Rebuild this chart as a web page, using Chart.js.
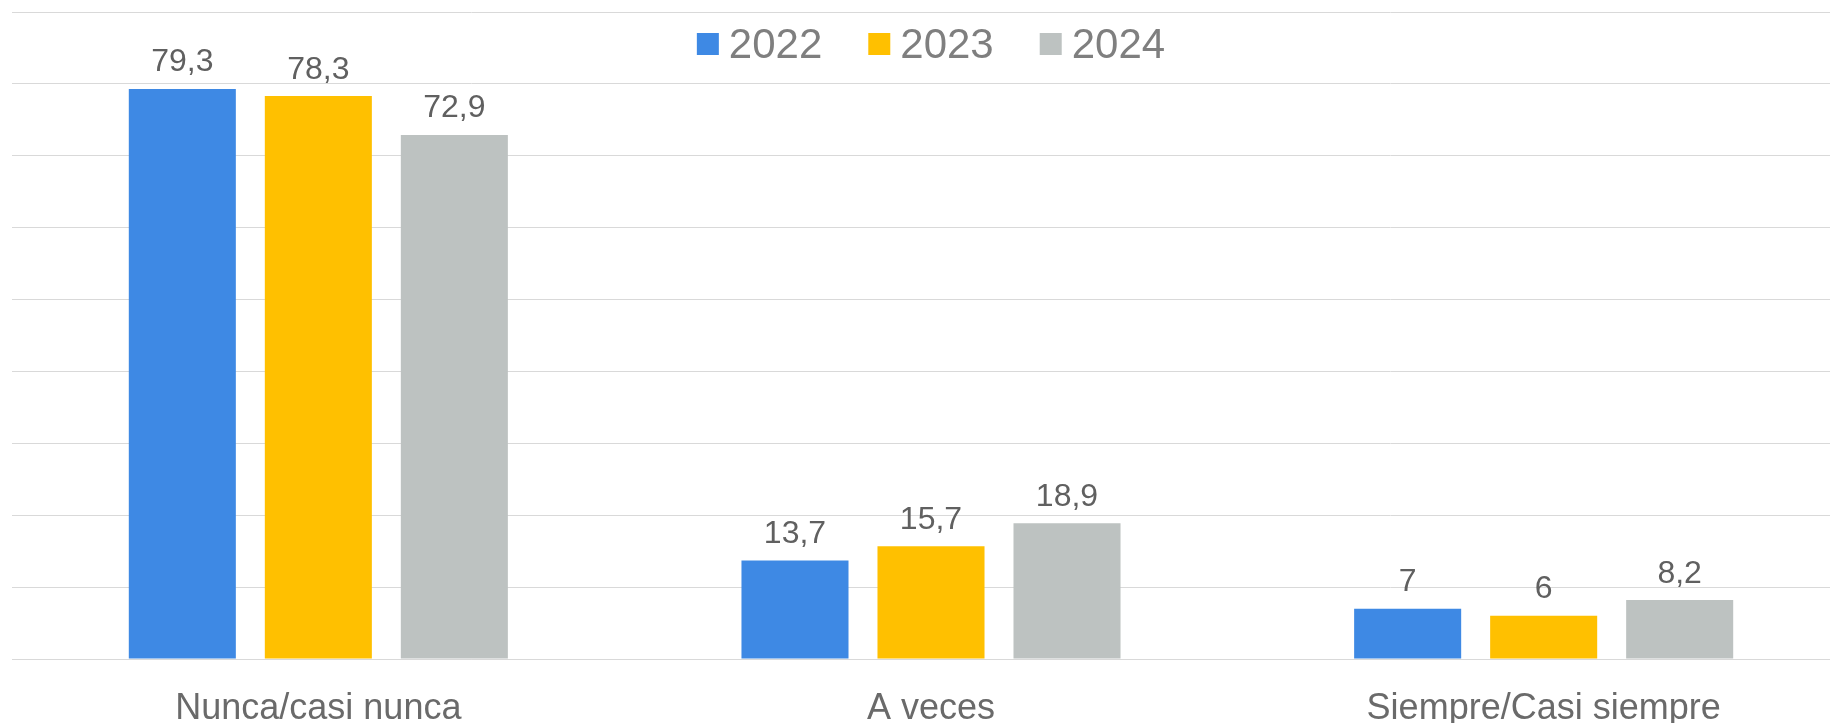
<!DOCTYPE html>
<html>
<head>
<meta charset="utf-8">
<script src="https://cdn.jsdelivr.net/npm/chart.js"></script>
<style>
  html, body { margin: 0; padding: 0; background: #fff; overflow: hidden; }
  #wrap { width: 1852px; height: 723px; }
</style>
</head>
<body>
<div id="wrap"><canvas id="myChart"></canvas></div>
<script>
const categories = ['Nunca/casi nunca', 'A veces', 'Siempre/Casi siempre'];
const years = ['2022', '2023', '2024'];
const values2022 = [79.3, 13.7, 7];
const values2023 = [78.3, 15.7, 6];
const values2024 = [72.9, 18.9, 8.2];
const colors = ['#3e89e4', '#ffc000', '#bdc2c1'];

const FONT = '"Liberation Sans", Arial, sans-serif';

// numbers over the bars, with a decimal comma
const valueLabels = {
  id: 'valueLabels',
  afterDatasetsDraw(chart) {
    const ctx = chart.ctx;
    ctx.save();
    ctx.font = '32px ' + FONT;
    ctx.fillStyle = '#606060';
    ctx.textAlign = 'center';
    ctx.textBaseline = 'alphabetic';
    chart.data.datasets.forEach((ds, i) => {
      chart.getDatasetMeta(i).data.forEach((bar, j) => {
        ctx.fillText(String(ds.data[j]).replace('.', ','), bar.x, bar.y - 17.5);
      });
    });
    ctx.restore();
  }
};

// legend drawn inside the plot, over the top grid band
const topLegend = {
  id: 'topLegend',
  afterDraw(chart) {
    const ctx = chart.ctx;
    const box = 22, gap = 10, itemGap = 46, size = 42;
    ctx.save();
    ctx.font = size + 'px ' + FONT;
    const items = chart.data.datasets.map(ds => ({
      text: ds.label, color: ds.backgroundColor, w: ctx.measureText(ds.label).width
    }));
    let total = 0;
    items.forEach((it, k) => { total += box + gap + it.w + (k ? itemGap : 0); });
    const area = chart.chartArea;
    let x = (area.left + area.right) / 2 - total / 2;
    ctx.textBaseline = 'alphabetic';
    ctx.textAlign = 'left';
    items.forEach(it => {
      ctx.fillStyle = it.color;
      ctx.fillRect(x, 33, box, box);
      ctx.fillStyle = '#7f7f7f';
      ctx.fillText(it.text, x + box + gap, 58);
      x += box + gap + it.w + itemGap;
    });
    ctx.restore();
  }
};

const ctx = document.getElementById('myChart');

const chart = new Chart(ctx, {
  type: 'bar',
  data: {
    labels: categories,
    datasets: [
      { label: years[0], data: values2022, backgroundColor: colors[0] },
      { label: years[1], data: values2023, backgroundColor: colors[1] },
      { label: years[2], data: values2024, backgroundColor: colors[2] }
    ]
  },
  options: {
    responsive: true,
    maintainAspectRatio: false,
    animation: false,
    layout: { padding: { top: 12, left: 12, right: 2, bottom: 0 } },
    datasets: {
      bar: { categoryPercentage: 0.666, barPercentage: 0.787 }
    },
    plugins: {
      legend: { display: false },
      tooltip: { enabled: false }
    },
    scales: {
      x: {
        grid: { display: false },
        border: { display: true, color: '#d9d9d9', width: 1 },
        ticks: {
          color: '#6a6a6a',
          font: { family: FONT, size: 36, lineHeight: 1 },
          padding: 24,
          maxRotation: 0
        },
        afterFit: (scale) => { scale.height = 64; }
      },
      y: {
        min: 0,
        max: 90,
        ticks: { display: false, stepSize: 10 },
        grid: { color: '#d9d9d9', drawTicks: false, lineWidth: 1 },
        border: { display: false }
      }
    }
  },
  plugins: [valueLabels, topLegend]
});
</script>
</body>
</html>
